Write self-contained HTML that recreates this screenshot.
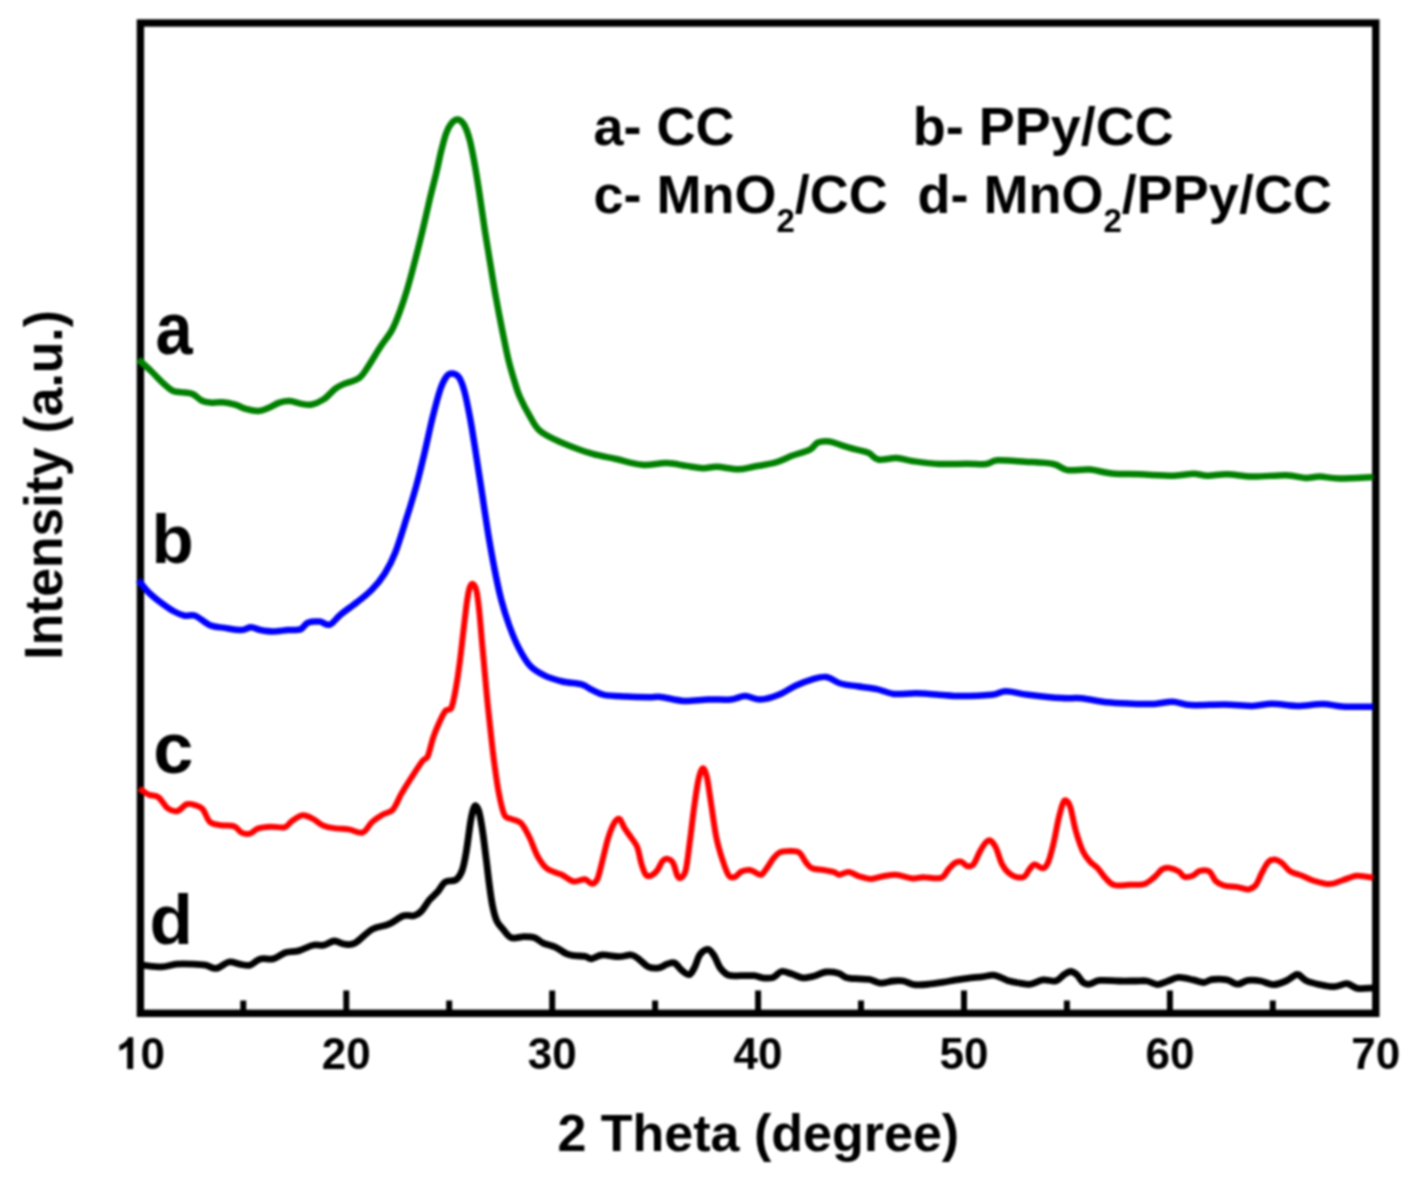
<!DOCTYPE html>
<html><head><meta charset="utf-8"><title>XRD</title>
<style>
html,body{margin:0;padding:0;background:#fff;}
body{width:1426px;height:1186px;overflow:hidden;}
svg{display:block;}
#wrap{width:1426px;height:1186px;filter:blur(1px);background:#fff;}
text{font-family:"Liberation Sans",sans-serif;font-weight:bold;fill:#000;}
</style></head><body>
<div id="wrap">
<svg width="1426" height="1186" viewBox="0 0 1426 1186">
<rect x="0" y="0" width="1426" height="1186" fill="#fff"/>
<rect x="140.4" y="23.0" width="1235.3999999999999" height="990.3" fill="none" stroke="#000" stroke-width="7.4"/>
<line x1="243.3" y1="1000.5" x2="243.3" y2="1013.3" stroke="#000" stroke-width="6"/>
<line x1="346.3" y1="990.5" x2="346.3" y2="1013.3" stroke="#000" stroke-width="6"/>
<line x1="449.2" y1="1000.5" x2="449.2" y2="1013.3" stroke="#000" stroke-width="6"/>
<line x1="552.2" y1="990.5" x2="552.2" y2="1013.3" stroke="#000" stroke-width="6"/>
<line x1="655.1" y1="1000.5" x2="655.1" y2="1013.3" stroke="#000" stroke-width="6"/>
<line x1="758.1" y1="990.5" x2="758.1" y2="1013.3" stroke="#000" stroke-width="6"/>
<line x1="861.0" y1="1000.5" x2="861.0" y2="1013.3" stroke="#000" stroke-width="6"/>
<line x1="964.0" y1="990.5" x2="964.0" y2="1013.3" stroke="#000" stroke-width="6"/>
<line x1="1066.9" y1="1000.5" x2="1066.9" y2="1013.3" stroke="#000" stroke-width="6"/>
<line x1="1169.9" y1="990.5" x2="1169.9" y2="1013.3" stroke="#000" stroke-width="6"/>
<line x1="1272.8" y1="1000.5" x2="1272.8" y2="1013.3" stroke="#000" stroke-width="6"/>

<g>
<path d="M138.4 359.5C140.5 361.4 146.8 367.0 151.0 371.0C155.2 375.0 160.0 380.4 163.7 383.7C167.4 387.0 169.6 389.5 173.1 391.0C176.6 392.5 181.4 392.0 184.7 392.5C188.0 393.0 190.3 392.9 193.1 394.2C195.9 395.5 198.7 399.1 201.5 400.5C204.3 401.9 206.5 402.3 210.0 402.6C213.5 402.9 218.4 401.9 222.6 402.2C226.8 402.5 231.3 403.6 235.2 404.7C239.0 405.8 241.8 407.8 245.7 408.9C249.5 409.9 254.4 411.2 258.3 411.0C262.2 410.8 265.4 409.2 268.9 407.8C272.4 406.4 275.9 403.7 279.4 402.6C282.9 401.5 286.4 400.9 289.9 401.1C293.4 401.3 296.9 403.0 300.4 403.6C303.9 404.2 307.0 405.4 310.9 404.7C314.8 404.0 319.6 402.0 323.6 399.4C327.6 396.8 331.9 391.4 335.1 388.9C338.3 386.4 339.0 386.2 343.0 384.4C347.0 382.6 355.0 381.0 359.1 378.1C363.2 375.2 364.3 372.1 367.9 366.8C371.5 361.5 376.6 352.6 380.6 346.5C384.6 340.4 388.8 335.8 391.9 330.1C395.0 324.4 397.0 319.1 399.5 312.4C402.0 305.6 404.6 298.0 407.1 289.6C409.6 281.2 412.2 271.5 414.7 261.8C417.2 252.1 419.8 242.0 422.3 231.5C424.8 221.0 427.6 208.3 429.9 198.6C432.2 188.9 434.3 181.3 436.2 173.3C438.1 165.3 439.6 157.3 441.3 150.6C443.0 143.9 444.6 137.5 446.3 132.9C448.0 128.3 449.5 125.5 451.4 123.3C453.3 121.0 455.6 119.2 457.7 119.4C459.8 119.6 461.9 120.9 464.0 124.5C466.1 128.1 468.2 134.1 470.0 141.0C471.8 147.9 473.4 157.2 475.0 166.0C476.6 174.8 477.9 183.7 479.5 194.0C481.1 204.3 482.8 216.7 484.5 228.0C486.2 239.3 488.2 250.8 490.0 262.0C491.8 273.2 493.5 283.8 495.5 295.0C497.5 306.2 499.8 318.2 502.0 329.0C504.2 339.8 506.3 351.0 508.5 360.0C510.7 369.0 513.1 376.8 515.0 383.0C516.9 389.2 517.5 391.6 519.9 397.0C522.3 402.4 526.3 410.2 529.5 415.7C532.7 421.2 534.8 426.1 539.1 430.1C543.4 434.1 549.2 436.8 555.1 439.7C561.0 442.6 568.0 445.4 574.4 447.8C580.8 450.2 586.7 452.3 593.6 454.2C600.5 456.1 607.9 457.2 616.0 459.0C624.1 460.8 633.6 464.1 642.0 464.8C650.4 465.5 659.1 462.9 666.5 463.1C673.9 463.3 680.0 465.0 686.1 465.9C692.2 466.8 697.8 468.0 702.9 468.2C708.0 468.4 711.1 466.6 717.0 466.8C722.9 467.0 731.9 469.3 738.0 469.3C744.1 469.3 747.1 468.0 753.4 466.8C759.7 465.6 769.3 464.2 775.9 462.3C782.5 460.4 787.1 457.6 792.7 455.5C798.3 453.4 805.3 452.0 809.5 449.9C813.7 447.8 814.6 444.0 817.9 442.6C821.2 441.2 825.5 441.1 829.2 441.5C833.0 441.9 836.2 443.6 840.4 444.9C844.6 446.2 849.7 447.8 854.4 449.1C859.1 450.4 864.4 451.0 868.4 452.7C872.4 454.4 873.5 458.6 878.2 459.5C882.9 460.4 890.6 457.8 896.5 458.1C902.4 458.4 906.3 460.2 913.3 461.2C920.3 462.2 929.7 463.6 938.6 464.0C947.5 464.4 958.7 463.7 966.6 463.7C974.5 463.7 981.1 464.6 986.2 464.0C991.4 463.4 991.0 460.7 997.5 460.3C1004.0 459.9 1015.9 461.1 1025.2 461.7C1034.5 462.3 1046.3 462.6 1053.3 464.0C1060.3 465.4 1061.2 469.2 1067.3 470.1C1073.4 471.0 1082.3 469.0 1089.8 469.6C1097.3 470.2 1103.8 472.7 1112.2 473.5C1120.6 474.3 1130.0 473.9 1140.3 474.3C1150.6 474.7 1165.0 475.8 1173.9 475.7C1182.8 475.6 1187.9 473.8 1193.5 473.8C1199.1 473.8 1202.0 475.6 1207.6 475.7C1213.2 475.8 1219.7 474.1 1227.2 474.3C1234.7 474.5 1242.7 476.5 1252.5 476.6C1262.3 476.8 1277.2 475.0 1286.1 475.2C1295.0 475.4 1300.2 477.8 1305.8 478.0C1311.4 478.2 1314.2 476.5 1319.8 476.6C1325.4 476.7 1330.5 478.4 1339.4 478.5C1348.3 478.6 1367.7 477.3 1373.3 477.1" fill="none" stroke="#008000" stroke-width="6.5" stroke-linejoin="round" stroke-linecap="butt"/>
<path d="M138.4 580.0C140.2 582.1 145.0 588.8 148.9 592.6C152.8 596.5 157.4 600.0 161.6 603.1C165.8 606.2 170.3 609.4 174.2 611.5C178.0 613.6 181.2 615.0 184.7 615.7C188.2 616.4 191.0 614.1 195.2 615.7C199.4 617.3 205.1 623.2 210.0 625.2C214.9 627.2 219.4 627.1 224.7 627.9C229.9 628.7 237.1 630.1 241.5 630.0C245.9 629.9 247.8 627.3 251.0 627.3C254.2 627.3 256.7 629.3 260.4 630.0C264.1 630.7 268.5 631.5 273.1 631.5C277.7 631.5 283.2 630.4 287.8 630.0C292.4 629.6 297.1 630.6 300.4 629.4C303.7 628.2 304.6 624.0 307.8 622.7C311.0 621.4 315.7 621.3 319.4 621.6C323.1 621.9 326.4 625.8 329.9 624.6C333.4 623.5 335.8 618.5 340.4 614.7C344.9 611.0 351.9 606.3 357.2 602.1C362.5 597.9 367.4 594.1 372.0 589.4C376.6 584.7 380.8 579.8 384.6 573.7C388.5 567.6 391.4 562.4 395.1 553.0C398.8 543.6 403.3 528.4 406.9 517.1C410.5 505.8 413.6 495.7 416.5 485.0C419.4 474.3 421.8 464.1 424.5 452.9C427.2 441.7 429.8 428.4 432.5 417.7C435.2 407.0 438.1 395.8 440.5 388.8C442.9 381.9 444.9 378.6 446.9 376.0C448.9 373.4 450.7 373.2 452.7 373.5C454.7 373.8 457.1 374.5 459.1 377.6C461.1 380.7 462.8 385.3 464.6 392.0C466.4 398.7 468.1 407.6 470.0 417.7C471.9 427.8 473.8 440.1 475.8 452.9C477.8 465.7 480.1 480.7 482.2 494.6C484.3 508.5 486.5 523.5 488.6 536.3C490.7 549.1 492.9 560.8 495.0 571.5C497.1 582.2 499.0 591.3 501.4 600.4C503.8 609.5 506.5 618.0 509.4 626.0C512.3 634.0 515.5 641.8 519.0 648.5C522.5 655.2 526.0 661.6 530.3 666.1C534.6 670.6 539.4 673.1 544.7 675.7C550.0 678.3 556.2 680.0 562.3 681.5C568.4 683.0 576.7 683.1 581.5 684.4C586.3 685.7 587.5 687.8 591.2 689.5C595.0 691.2 598.1 693.7 604.0 694.9C609.9 696.1 618.9 696.1 626.4 696.5C633.9 696.9 643.0 697.1 648.8 697.2C654.5 697.3 655.1 696.3 660.9 696.9C666.6 697.5 675.4 700.5 683.3 700.9C691.2 701.3 700.5 699.7 708.5 699.5C716.5 699.3 724.9 700.1 731.0 699.5C737.1 698.9 740.1 696.1 745.0 696.1C749.9 696.1 754.8 699.7 760.4 699.5C766.0 699.3 772.9 697.0 778.7 694.7C784.6 692.4 789.9 688.3 795.5 685.7C801.1 683.1 807.1 680.8 812.3 679.3C817.4 677.8 821.7 676.3 826.4 677.0C831.1 677.7 835.3 682.0 840.4 683.5C845.5 685.0 851.1 685.4 857.2 686.3C863.3 687.2 870.7 687.8 876.8 689.1C882.9 690.4 887.2 693.2 893.7 693.9C900.2 694.6 908.6 693.2 916.1 693.3C923.6 693.4 931.1 694.2 938.6 694.7C946.1 695.2 952.1 696.1 961.0 696.1C969.9 696.1 984.4 695.5 991.9 694.7C999.4 693.9 999.9 691.3 1005.9 691.3C1011.9 691.3 1018.7 693.6 1028.0 694.7C1037.3 695.8 1052.8 697.5 1061.7 698.1C1070.6 698.7 1073.8 697.6 1081.3 698.3C1088.8 699.0 1098.2 701.4 1106.6 702.3C1115.0 703.2 1123.8 703.4 1131.8 703.7C1139.8 704.0 1147.5 704.3 1154.3 704.0C1161.1 703.7 1166.4 701.5 1172.5 701.7C1178.6 701.9 1182.0 704.6 1190.7 705.1C1199.4 705.6 1214.1 704.4 1224.4 704.5C1234.7 704.6 1244.5 706.0 1252.5 705.9C1260.5 705.8 1264.6 703.7 1272.1 703.7C1279.6 703.7 1288.9 705.9 1297.3 705.9C1305.7 705.9 1315.1 703.9 1322.6 704.0C1330.1 704.1 1333.8 706.0 1342.2 706.5C1350.7 707.0 1368.1 706.8 1373.3 706.8" fill="none" stroke="#0000ff" stroke-width="6.5" stroke-linejoin="round" stroke-linecap="butt"/>
<path d="M139.5 788.4C141.1 789.5 145.8 793.2 148.9 794.7C152.1 796.2 155.2 794.9 158.4 797.2C161.6 799.5 164.8 806.1 167.9 808.4C171.1 810.7 174.2 811.8 177.3 811.1C180.5 810.4 183.8 805.2 186.8 804.2C189.8 803.2 192.6 804.4 195.2 805.2C197.8 806.0 200.1 806.2 202.6 809.0C205.1 811.8 207.0 819.4 210.0 822.1C213.0 824.8 216.5 824.5 220.5 825.2C224.5 825.9 230.6 825.1 234.1 826.3C237.6 827.5 238.9 831.4 241.5 832.6C244.1 833.8 247.1 834.3 249.9 833.6C252.7 832.9 254.8 829.5 258.3 828.4C261.8 827.2 266.6 826.9 271.0 826.7C275.4 826.5 281.1 828.2 284.6 827.3C288.1 826.3 289.0 823.0 292.0 821.0C295.0 819.0 299.0 815.6 302.5 815.3C306.0 814.9 309.5 817.1 313.0 818.9C316.5 820.6 319.7 824.2 323.6 825.8C327.5 827.4 332.0 827.8 336.2 828.4C340.4 829.0 344.4 828.7 348.8 829.4C353.2 830.1 358.6 833.8 362.5 832.6C366.4 831.4 368.7 825.1 372.0 822.1C375.3 819.1 379.0 816.8 382.5 814.7C386.0 812.6 389.9 812.9 393.0 809.4C396.1 805.9 398.2 799.1 401.4 793.7C404.5 788.3 408.4 782.2 411.9 776.8C415.4 771.3 419.9 764.4 422.5 761.0C425.1 757.6 426.0 760.3 427.8 756.3C429.6 752.3 431.1 743.4 433.4 736.9C435.7 730.4 439.6 721.8 441.7 717.4C443.8 713.0 444.3 712.0 445.9 710.4C447.5 708.8 449.8 711.2 451.4 707.7C453.0 704.2 454.2 697.2 455.6 689.6C457.0 682.0 458.5 671.5 459.8 661.8C461.1 652.1 462.2 640.9 463.4 631.2C464.5 621.5 465.7 610.6 466.7 603.4C467.7 596.2 468.5 591.4 469.5 588.1C470.5 584.9 471.7 583.4 472.9 583.9C474.1 584.4 475.4 586.3 476.5 590.9C477.6 595.5 478.4 603.1 479.3 611.7C480.2 620.3 481.1 632.1 482.0 642.3C482.9 652.5 483.9 662.7 484.8 672.9C485.7 683.1 486.5 692.8 487.6 703.5C488.7 714.2 490.1 726.7 491.2 736.9C492.3 747.1 493.2 755.4 494.5 764.7C495.8 774.0 497.1 784.2 498.7 792.5C500.3 800.8 502.2 810.3 504.3 814.7C506.4 819.1 508.4 817.5 511.2 818.9C514.0 820.3 518.0 820.1 521.0 823.1C524.0 826.1 526.5 831.5 529.3 837.0C532.1 842.5 534.7 851.1 537.7 856.4C540.7 861.7 543.5 865.9 547.4 868.9C551.3 871.9 556.9 872.4 561.3 874.5C565.7 876.6 569.9 880.7 573.8 881.5C577.7 882.3 581.9 878.8 584.9 879.2C587.9 879.6 589.8 883.8 591.9 883.7C594.0 883.7 595.6 882.9 597.4 878.9C599.2 874.9 600.9 866.6 602.6 859.9C604.4 853.2 606.0 845.0 607.9 838.9C609.8 832.8 612.3 826.4 614.2 823.1C616.1 819.8 617.8 818.0 619.5 818.9C621.2 819.8 622.6 825.1 624.7 828.4C626.8 831.7 630.0 835.8 632.1 838.9C634.2 842.0 635.7 843.1 637.3 847.3C638.9 851.5 640.1 859.5 641.5 864.1C642.9 868.7 644.2 872.8 645.8 874.7C647.4 876.6 649.1 876.4 651.0 875.7C652.9 875.0 655.4 872.9 657.3 870.4C659.2 867.9 660.9 862.9 662.6 861.0C664.4 859.1 666.0 858.5 667.8 858.9C669.5 859.2 671.5 860.3 673.1 863.1C674.7 865.9 676.0 873.2 677.3 875.7C678.6 878.2 679.5 878.7 680.9 877.8C682.3 876.9 684.2 876.5 685.7 870.4C687.2 864.3 688.5 851.5 689.9 841.0C691.3 830.5 692.7 817.5 694.1 807.3C695.5 797.1 697.0 786.5 698.4 780.0C699.8 773.5 701.2 768.9 702.6 768.4C704.0 767.9 705.4 771.0 706.8 776.8C708.2 782.6 709.4 793.1 711.0 803.1C712.6 813.1 714.3 827.3 716.2 836.8C718.1 846.3 720.4 853.4 722.5 859.9C724.6 866.4 726.8 872.9 728.9 875.7C731.0 878.5 733.1 877.5 735.2 876.8C737.3 876.1 739.0 872.6 741.5 871.5C744.0 870.4 747.4 869.8 749.9 870.0C752.4 870.2 754.3 872.2 756.2 873.0C758.1 873.8 759.8 875.5 761.5 874.7C763.2 873.9 764.8 870.9 766.7 868.3C768.6 865.7 770.9 861.5 773.0 858.9C775.1 856.3 776.6 853.9 779.4 852.6C782.2 851.3 786.6 851.1 789.9 851.1C793.2 851.1 796.7 850.8 799.3 852.6C801.9 854.4 803.6 859.4 805.7 862.0C807.8 864.6 809.0 867.0 812.0 868.3C815.0 869.6 819.8 869.4 823.5 870.0C827.2 870.6 831.5 871.3 834.1 872.1C836.7 872.9 836.8 874.7 839.3 874.7C841.8 874.7 845.5 871.8 848.8 872.1C852.1 872.4 855.6 875.2 859.3 876.3C863.0 877.4 866.9 878.9 870.9 878.9C874.9 878.9 879.0 877.0 883.1 876.3C887.2 875.6 890.9 874.4 895.8 874.7C900.7 875.1 908.0 878.0 912.6 878.4C917.2 878.8 918.4 877.3 923.1 877.2C927.8 877.1 936.8 879.1 941.0 877.8C945.2 876.5 946.1 871.8 948.4 869.4C950.7 867.0 952.6 864.4 954.7 863.1C956.8 861.8 958.9 861.1 961.0 861.6C963.1 862.1 965.2 865.8 967.3 866.2C969.4 866.6 971.5 866.6 973.6 864.1C975.7 861.6 977.8 855.2 979.9 851.5C982.0 847.8 984.5 843.8 986.2 842.0C988.0 840.2 988.8 839.7 990.4 840.6C992.0 841.5 993.8 843.4 995.7 847.3C997.6 851.2 999.9 859.9 1002.0 864.1C1004.1 868.3 1006.0 870.4 1008.3 872.5C1010.6 874.6 1013.1 876.1 1015.7 876.8C1018.3 877.5 1021.8 878.0 1024.1 876.8C1026.4 875.6 1027.7 871.4 1029.4 869.4C1031.2 867.4 1032.3 864.8 1034.6 864.6C1036.9 864.4 1040.7 868.7 1043.0 868.3C1045.3 867.9 1046.5 866.2 1048.3 862.0C1050.1 857.8 1051.8 850.5 1053.6 843.1C1055.3 835.7 1057.2 824.5 1058.8 817.8C1060.4 811.1 1061.8 806.0 1063.0 803.1C1064.2 800.2 1065.0 799.9 1066.2 800.6C1067.4 801.3 1068.8 802.3 1070.4 807.3C1072.0 812.3 1073.6 823.1 1075.7 830.5C1077.8 837.9 1080.5 846.2 1083.0 851.5C1085.5 856.8 1088.0 859.2 1090.4 862.0C1092.9 864.8 1095.1 865.5 1097.7 868.3C1100.3 871.1 1103.4 876.1 1106.2 878.9C1109.0 881.7 1110.8 884.2 1114.6 885.2C1118.4 886.2 1124.4 885.0 1129.3 884.8C1134.2 884.6 1139.8 885.4 1144.0 884.1C1148.2 882.8 1151.7 879.2 1154.7 876.8C1157.7 874.3 1159.6 870.9 1162.1 869.4C1164.5 867.9 1166.6 867.5 1169.4 867.9C1172.2 868.2 1176.4 870.0 1178.9 871.5C1181.4 873.0 1181.9 876.1 1184.2 876.8C1186.5 877.5 1190.0 876.7 1192.6 875.7C1195.2 874.7 1197.1 871.6 1199.9 870.9C1202.7 870.2 1206.8 869.8 1209.4 871.5C1212.0 873.2 1213.2 878.6 1215.7 881.0C1218.2 883.4 1220.6 884.6 1224.1 885.6C1227.6 886.6 1232.8 886.3 1236.8 886.9C1240.8 887.5 1245.1 889.7 1248.3 889.4C1251.5 889.1 1253.4 888.0 1255.7 885.2C1258.0 882.4 1259.9 876.4 1262.0 872.5C1264.1 868.6 1266.2 864.2 1268.3 862.0C1270.4 859.8 1272.3 859.3 1274.6 859.5C1276.9 859.7 1279.4 861.1 1282.0 863.1C1284.6 865.1 1287.1 869.4 1290.4 871.5C1293.7 873.6 1298.0 874.1 1302.0 875.7C1306.0 877.3 1310.0 879.6 1314.6 881.0C1319.1 882.4 1324.7 884.2 1329.3 884.1C1333.9 884.0 1337.4 881.9 1342.0 880.5C1346.6 879.1 1351.5 876.2 1356.7 875.7C1361.9 875.2 1370.5 877.4 1373.3 877.8" fill="none" stroke="#ff0000" stroke-width="6.0" stroke-linejoin="round" stroke-linecap="butt"/>
<path d="M137.4 965.2C138.3 965.2 138.6 964.9 142.6 965.2C146.6 965.5 156.0 967.1 161.6 966.9C167.2 966.7 171.1 964.6 176.3 964.1C181.6 963.6 188.2 963.9 193.1 964.1C198.0 964.3 201.8 964.5 205.7 965.2C209.6 965.9 212.4 968.9 216.3 968.4C220.2 967.9 225.1 962.7 228.9 962.0C232.8 961.3 235.9 963.6 239.4 964.1C242.9 964.6 246.4 966.1 249.9 965.2C253.4 964.3 256.5 960.0 260.4 958.9C264.3 957.8 268.9 959.9 273.1 958.9C277.3 957.9 281.5 953.9 285.7 952.6C289.9 951.3 293.8 952.1 298.3 950.9C302.9 949.7 308.8 946.2 313.0 945.2C317.2 944.2 320.1 945.9 323.6 945.2C327.1 944.5 330.6 941.2 334.1 941.0C337.6 940.8 341.1 943.9 344.6 944.2C348.1 944.6 350.5 945.6 355.1 943.1C359.7 940.6 366.4 932.5 372.0 929.4C377.6 926.2 383.6 926.5 388.8 924.2C394.1 921.9 399.3 917.2 403.5 915.8C407.7 914.4 411.1 916.5 414.0 915.8C416.9 915.1 418.4 914.1 421.0 911.5C423.6 908.9 426.7 903.2 429.5 899.9C432.3 896.6 435.3 894.5 437.9 891.5C440.5 888.5 442.2 883.9 445.2 882.0C448.2 880.1 453.0 881.8 455.8 879.9C458.6 878.0 460.4 875.2 462.1 870.5C463.9 865.8 464.9 859.6 466.3 851.5C467.7 843.4 469.3 829.3 470.5 822.1C471.7 814.9 472.7 811.0 473.6 808.4C474.6 805.8 475.2 805.4 476.2 806.3C477.2 807.2 478.4 809.0 479.5 813.7C480.6 818.4 482.0 827.0 483.1 834.7C484.2 842.4 485.2 851.5 486.3 859.9C487.4 868.3 488.3 877.5 489.4 885.2C490.4 892.9 491.4 900.2 492.6 906.2C493.8 912.2 495.1 917.1 496.8 921.0C498.6 924.9 500.7 926.6 503.1 929.4C505.6 932.2 508.0 936.6 511.5 937.8C515.0 939.0 520.2 936.7 524.1 936.7C528.0 936.7 531.5 936.7 534.7 937.8C537.9 938.9 539.6 941.5 543.1 943.1C546.6 944.7 551.9 945.5 555.7 947.3C559.6 949.0 563.1 952.2 566.2 953.6C569.4 955.0 571.5 955.2 574.6 955.7C577.8 956.2 582.3 955.8 585.1 956.3C587.9 956.8 588.7 959.0 591.5 958.8C594.3 958.6 597.5 955.4 602.0 955.0C606.5 954.6 613.9 956.7 618.8 956.7C623.7 956.7 627.9 954.5 631.4 955.0C634.9 955.5 637.0 957.9 639.8 959.9C642.6 961.9 645.1 965.5 648.3 966.8C651.5 968.1 655.6 968.3 658.8 967.9C661.9 967.5 664.6 964.9 667.2 964.1C669.8 963.3 672.2 962.0 674.6 963.0C677.0 964.0 679.5 968.5 681.9 970.4C684.3 972.3 687.2 975.1 689.3 974.6C691.4 974.1 692.8 970.6 694.6 967.3C696.4 964.0 697.8 957.6 700.0 954.6C702.2 951.6 705.5 949.2 707.9 949.4C710.3 949.6 712.1 952.6 714.2 955.8C716.3 959.0 718.0 965.1 720.5 968.4C723.0 971.6 725.4 974.1 728.9 975.3C732.4 976.5 737.3 975.6 741.5 975.7C745.7 975.8 750.7 975.4 754.2 975.7C757.7 976.1 759.5 977.5 762.6 977.8C765.8 978.1 770.0 978.4 773.1 977.4C776.2 976.4 778.4 972.0 781.5 971.5C784.6 971.0 788.5 973.1 792.0 974.1C795.5 975.1 798.7 977.5 802.6 977.8C806.5 978.1 811.4 976.7 815.2 975.7C819.1 974.7 821.9 972.4 825.7 972.0C829.6 971.6 834.8 972.2 838.3 973.2C841.8 974.2 843.2 976.8 846.7 977.8C850.2 978.8 855.5 978.6 859.4 978.9C863.3 979.2 866.4 978.8 869.9 979.5C873.4 980.2 876.5 982.9 880.4 983.1C884.2 983.4 889.1 981.4 893.0 981.0C896.9 980.6 900.0 980.4 903.5 981.0C907.0 981.6 909.9 984.1 914.1 984.6C918.3 985.1 923.9 984.6 928.8 984.2C933.7 983.8 939.0 982.8 943.5 982.1C948.0 981.4 952.1 980.5 956.1 979.9C960.1 979.3 963.1 978.8 967.4 978.3C971.7 977.8 977.5 977.3 982.1 976.8C986.7 976.3 990.5 974.7 994.7 975.3C998.9 975.9 1003.1 979.1 1007.3 980.4C1011.5 981.7 1016.0 982.5 1019.9 983.1C1023.8 983.7 1026.6 984.7 1030.5 984.2C1034.4 983.7 1038.9 980.4 1043.1 979.9C1047.3 979.4 1052.2 981.9 1055.7 981.0C1059.2 980.1 1061.6 976.3 1064.1 974.7C1066.5 973.1 1068.3 971.5 1070.4 971.5C1072.5 971.5 1074.7 972.9 1076.8 974.7C1078.9 976.5 1081.0 980.9 1083.1 982.5C1085.2 984.1 1086.6 984.6 1089.4 984.2C1092.2 983.9 1095.0 980.9 1099.9 980.4C1104.8 979.9 1112.8 980.9 1118.8 981.0C1124.8 981.1 1131.0 981.0 1135.7 981.0C1140.4 981.0 1143.3 980.4 1147.0 981.0C1150.7 981.6 1154.1 984.6 1157.6 984.6C1161.1 984.6 1164.6 982.2 1168.1 981.0C1171.6 979.8 1174.4 977.6 1178.6 977.4C1182.8 977.2 1189.1 979.0 1193.3 979.9C1197.5 980.8 1200.6 982.6 1203.8 982.5C1207.0 982.4 1208.4 979.9 1212.3 979.5C1216.2 979.1 1222.8 979.1 1227.0 979.9C1231.2 980.7 1234.0 984.1 1237.5 984.2C1241.0 984.3 1244.1 980.9 1248.0 980.4C1251.9 979.9 1256.5 980.3 1260.7 981.0C1264.9 981.7 1269.1 984.6 1273.3 984.6C1277.5 984.6 1282.4 982.5 1285.9 981.0C1289.4 979.5 1292.2 976.8 1294.3 975.7C1296.4 974.7 1296.4 973.8 1298.5 974.7C1300.6 975.6 1303.4 979.4 1306.9 981.0C1310.4 982.6 1315.0 983.6 1319.6 984.6C1324.2 985.6 1329.8 986.9 1334.3 986.7C1338.8 986.6 1343.1 983.4 1346.9 983.7C1350.8 984.0 1353.0 987.7 1357.4 988.4C1361.8 989.1 1370.7 988.0 1373.3 987.9" fill="none" stroke="#000000" stroke-width="6.8" stroke-linejoin="round" stroke-linecap="butt"/>
</g>
<path d="M393 0H256V518Q181 448 79 414V539Q133 557 196 606Q259 655 282 720H393Z" transform="translate(115.9,1069) scale(0.044,-0.044)"/>
<text x="140.4" y="1069" font-size="44">0</text>
<text x="346.3" y="1069" font-size="44" text-anchor="middle">20</text>
<text x="552.2" y="1069" font-size="44" text-anchor="middle">30</text>
<text x="758.1" y="1069" font-size="44" text-anchor="middle">40</text>
<text x="964.0" y="1069" font-size="44" text-anchor="middle">50</text>
<text x="1169.9" y="1069" font-size="44" text-anchor="middle">60</text>
<text x="1375.8" y="1069" font-size="44" text-anchor="middle">70</text>

<text x="758.3" y="1150.5" font-size="52" text-anchor="middle">2 Theta (degree)</text>
<text transform="translate(62.2,484.9) rotate(-90) scale(0.964,1)" font-size="53.5" text-anchor="middle">Intensity (a.u.)</text>
<text x="593.5" y="144.6" font-size="54">a- CC</text>
<text x="912.8" y="144.6" font-size="54" textLength="261" lengthAdjust="spacingAndGlyphs">b- PPy/CC</text>
<text x="593.5" y="212.6" font-size="54">c- MnO<tspan font-size="33" dy="19">2</tspan><tspan dy="-19">/CC</tspan></text>
<text x="917.5" y="212.6" font-size="54">d- MnO<tspan font-size="33" dy="19">2</tspan><tspan dy="-19">/PPy/CC</tspan></text>
<text transform="translate(155.6,354) scale(0.89,1)" font-size="75">a</text>
<text x="151.5" y="563.2" font-size="69">b</text>
<text x="153.2" y="773" font-size="72">c</text>
<text x="149.6" y="944.3" font-size="71">d</text>
</svg>
</div>
</body></html>
